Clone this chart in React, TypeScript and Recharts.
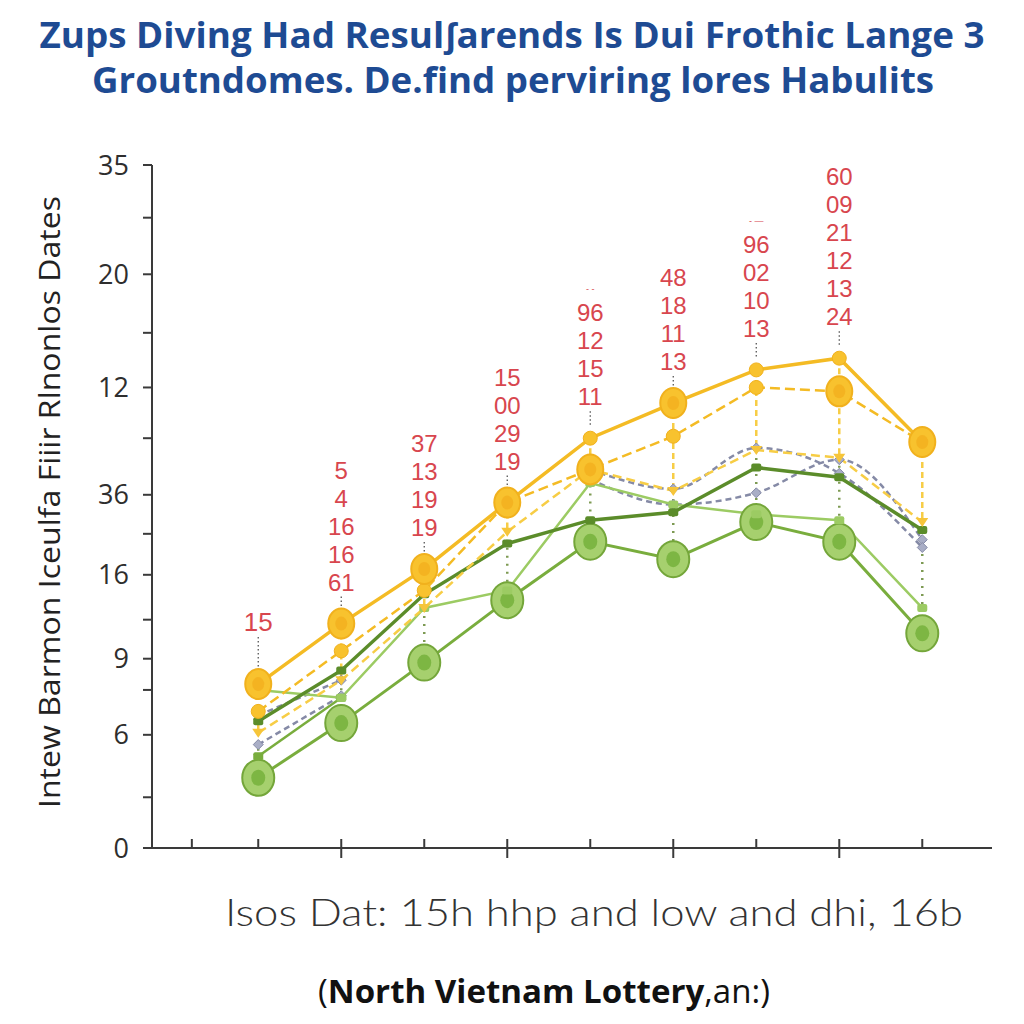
import React from 'react'
import { LineChart, Line, XAxis, YAxis, ReferenceLine } from 'recharts'

// category positions along the x axis (1..9), plus one extra leading tick
const categories = [1, 2, 3, 4, 5, 6, 7, 8, 9]
const xTicks = [0.2, 1, 2, 3, 4, 5, 6, 7, 8, 9]
const xMajorTicks = [2, 4, 6, 8]

// y axis: tick positions and the (odd) labels printed next to them
const yTickValues = [0, 2.6, 5.8, 8.1, 9.7, 11.7, 14.0, 16.1, 18.1, 21.0, 23.6, 26.4, 29.4, 32.3, 35]
const yTickLabels = ['0', '', '6', '', '9', '', '16', '', '36', '', '12', '', '20', '', '35']

// series
const goldTop = [8.4, 11.5, 14.3, 17.7, 21.0, 22.8, 24.5, 25.1, 20.8]
const goldMid = [7.0, 10.1, 13.2, 17.7, 19.4, 21.1, 23.6, 23.4, 20.8]
const goldLow = [5.9, 8.6, 12.3, 16.2, 19.4, 18.3, 20.4, 20.0, 16.7]
const greenDark = [6.5, 9.1, 13.0, 15.6, 16.8, 17.2, 19.5, 19.0, 16.3]
const greenLight = [8.1, 7.7, 12.3, 13.2, 18.7, 17.6, 17.1, 16.8, 12.3]
const greenThin = [4.7, 7.7, null, null, null, null, null, null, null]
const greenBig = [3.6, 6.4, 9.5, 12.7, 15.7, 14.8, 16.7, 15.7, 11.0]
const greyA = [6.8, 8.6, null, null, 19.4, 18.4, 20.5, 19.2, 15.4]
const greyB = [5.3, 7.8, null, null, 18.9, 17.6, 18.2, 19.9, 15.8]

// red number stacks printed above the top line
const labelStacks = [
  ['15'],
  ['5', '4', '16', '16', '61'],
  ['37', '13', '19', '19'],
  ['15', '00', '29', '19'],
  ['96', '12', '15', '11'],
  ['48', '18', '11', '13'],
  ['96', '02', '10', '13'],
  ['60', '09', '21', '12', '13', '24'],
  [],
]
const stackMarks = ['', '', '', '', '-  -', '', '-  —', '', '']

const goldTopBig = [0, 1, 2, 3, 5, 8]
const goldMidBig = [4, 7]

const chartData = categories.map((x, i) => ({
  x,
  goldTop: goldTop[i],
  goldMid: goldMid[i],
  goldLow: goldLow[i],
  greenDark: greenDark[i],
  greenLight: greenLight[i],
  greenThin: greenThin[i],
  greenBig: greenBig[i],
  greyA: greyA[i],
  greyB: greyB[i],
}))

const GOLD = '#f4bb24'
const GOLD_DASH = '#f7cd45'
const GREEN_DARK = '#5b8c2a'
const GREEN = '#79ad3d'
const GREEN_LIGHT = '#9ccb63'
const GREY = '#858aa6'
const RED = '#d8464e'
const NUM_FONT = "'Liberation Sans', Arial, sans-serif"

function goldBig(cx: number, cy: number) {
  return (
    <g>
      <ellipse cx={cx} cy={cy} rx={13} ry={15} fill="#f8c22e" stroke="#f1b11d" strokeWidth={2} />
      <ellipse cx={cx} cy={cy} rx={6} ry={7} fill="#f0a718" opacity={0.55} />
    </g>
  )
}

function goldSmall(cx: number, cy: number) {
  return <circle cx={cx} cy={cy} r={7} fill="#f8c22e" stroke="#f1b11d" strokeWidth={1} />
}

const GoldTopDot = (p: any) => {
  const { cx, cy, index } = p
  if (cx == null || cy == null) return <g key={`gt-${index}`} />
  const lines = labelStacks[index] || []
  const lh = 28
  const bottom = index === 0 ? cy - 62 : cy - 42
  const top = bottom - (lines.length - 1) * lh
  return (
    <g key={`gt-${index}`}>
      {lines.length > 0 && (
        <line x1={cx} x2={cx} y1={bottom + 15} y2={cy - 12} stroke="#555" strokeWidth={1.3} strokeDasharray="1.5 2.5" />
      )}
      {goldTopBig.includes(index) ? goldBig(cx, cy) : goldSmall(cx, cy)}
      {stackMarks[index] && (
        <text x={cx} y={top - 20} textAnchor="middle" fontSize={9} fill={RED} fontFamily={NUM_FONT}>
          {stackMarks[index]}
        </text>
      )}
      {lines.length > 0 && (
        <text textAnchor="middle" fill={RED} fontFamily={NUM_FONT} fontSize={index === 0 ? 26 : 24}>
          {lines.map((t, k) => (
            <tspan key={k} x={cx} y={top + k * lh + 9}>
              {t}
            </tspan>
          ))}
        </text>
      )}
    </g>
  )
}

const GoldMidDot = (p: any) => {
  const { cx, cy, index } = p
  if (cx == null || cy == null) return <g key={`gm-${index}`} />
  return <g key={`gm-${index}`}>{goldMidBig.includes(index) ? goldBig(cx, cy) : goldSmall(cx, cy)}</g>
}

const GoldLowDot = (p: any) => {
  const { cx, cy, index } = p
  if (cx == null || cy == null) return <g key={`gl-${index}`} />
  return <path key={`gl-${index}`} d={`M${cx - 6},${cy - 4} L${cx + 6},${cy - 4} L${cx},${cy + 5} Z`} fill="#f6c53a" />
}

const GreenBigDot = (p: any) => {
  const { cx, cy, index } = p
  if (cx == null || cy == null) return <g key={`gb-${index}`} />
  return (
    <g key={`gb-${index}`}>
      <ellipse cx={cx} cy={cy} rx={16} ry={18} fill="#a6d06e" stroke="#74a63a" strokeWidth={2} />
      <ellipse cx={cx} cy={cy} rx={7} ry={8} fill="#7db643" />
    </g>
  )
}

const smallSquare = (color: string, prefix: string) => (p: any) => {
  const { cx, cy, index } = p
  if (cx == null || cy == null) return <g key={`${prefix}-${index}`} />
  return <rect key={`${prefix}-${index}`} x={cx - 5} y={cy - 4} width={10} height={8} rx={2} fill={color} />
}

const smallDiamond = (color: string, prefix: string) => (p: any) => {
  const { cx, cy, index } = p
  if (cx == null || cy == null) return <g key={`${prefix}-${index}`} />
  return (
    <path key={`${prefix}-${index}`} d={`M${cx},${cy - 5} L${cx + 5},${cy} L${cx},${cy + 5} L${cx - 5},${cy} Z`} fill="#a9aec6" stroke={color} strokeWidth={1} />
  )
}

const XTick = (p: any) => {
  const { x, y, payload } = p
  const major = xMajorTicks.includes(payload.value)
  return <line x1={x} x2={x} y1={y - 9} y2={y + (major ? 10 : 0)} stroke="#3a3a3a" strokeWidth={2} />
}

export default function App() {
  return (
    <div style={{ position: 'absolute', left: 0, top: 0, width: 1024, height: 1024, background: '#fff', overflow: 'hidden' }}>
      <LineChart
        width={1024}
        height={1024}
        data={chartData}
        margin={{ top: 165, right: 32, bottom: 146, left: 92 }}
      >
        <XAxis
          type="number"
          dataKey="x"
          domain={[-0.28, 9.84]}
          ticks={xTicks}
          interval={0}
          allowDataOverflow
          height={30}
          tickSize={0}
          tickMargin={0}
          tickLine={false}
          axisLine={{ stroke: '#3a3a3a', strokeWidth: 2 }}
          tick={<XTick />}
        />
        <YAxis
          type="number"
          domain={[0, 35]}
          ticks={yTickValues}
          interval={0}
          width={60}
          tickSize={9}
          tickMargin={14}
          tickFormatter={(v: number) => yTickLabels[yTickValues.indexOf(v)] ?? ''}
          axisLine={{ stroke: '#3a3a3a', strokeWidth: 2 }}
          tickLine={{ stroke: '#3a3a3a', strokeWidth: 2 }}
          tick={{ fill: '#2e2e2e', fontSize: 27, fontFamily: "'Open Sans', sans-serif" }}
        />

        {categories.map((c, i) => (
          <ReferenceLine
            key={`vg-${c}`}
            segment={[
              { x: c, y: goldTop[i] },
              { x: c, y: goldLow[i] },
            ]}
            stroke={GOLD_DASH}
            strokeWidth={2.5}
            strokeDasharray="6 4"
          />
        ))}
        {categories.map((c, i) => (
          <ReferenceLine
            key={`vd-${c}`}
            segment={[
              { x: c, y: goldLow[i] },
              { x: c, y: greenBig[i] },
            ]}
            stroke="#7d9a52"
            strokeWidth={2.5}
            strokeDasharray="2 6"
          />
        ))}

        <Line
          dataKey="greyB"
          type="monotone"
          stroke={GREY}
          strokeWidth={2.5}
          strokeDasharray="6 4"
          dot={smallDiamond(GREY, 'gyb')}
          connectNulls={false}
          isAnimationActive={false}
        />
        <Line
          dataKey="greyA"
          type="monotone"
          stroke={GREY}
          strokeWidth={2.5}
          strokeDasharray="6 4"
          dot={smallDiamond(GREY, 'gya')}
          connectNulls={false}
          isAnimationActive={false}
        />
        <Line dataKey="greenBig" type="linear" stroke={GREEN} strokeWidth={3} dot={<GreenBigDot />} isAnimationActive={false} />
        <Line dataKey="greenThin" type="linear" stroke={GREEN} strokeWidth={2.5} dot={smallSquare(GREEN, 'gth')} connectNulls={false} isAnimationActive={false} />
        <Line dataKey="greenLight" type="linear" stroke={GREEN_LIGHT} strokeWidth={2.5} dot={smallSquare(GREEN_LIGHT, 'gli')} isAnimationActive={false} />
        <Line dataKey="greenDark" type="linear" stroke={GREEN_DARK} strokeWidth={3.5} dot={smallSquare(GREEN_DARK, 'gdk')} isAnimationActive={false} />
        <Line dataKey="goldLow" type="linear" stroke={GOLD_DASH} strokeWidth={2.5} strokeDasharray="9 5" dot={<GoldLowDot />} isAnimationActive={false} />
        <Line dataKey="goldMid" type="linear" stroke={GOLD} strokeWidth={2.5} strokeDasharray="10 5" dot={<GoldMidDot />} isAnimationActive={false} />
        <Line dataKey="goldTop" type="linear" stroke={GOLD} strokeWidth={3.5} dot={<GoldTopDot />} isAnimationActive={false} />
      </LineChart>

      <svg width={1024} height={1024} style={{ position: 'absolute', left: 0, top: 0, pointerEvents: 'none' }}>
        <text x={512} y={48} textAnchor="middle" textLength={945} lengthAdjust="spacingAndGlyphs" fontSize={35} fontWeight={700} fill="#1e4b93" fontFamily="'Open Sans', sans-serif">
          Zups Diving Had Resulʃarends Is Dui Frothic Lange 3
        </text>
        <text x={513} y={93} textAnchor="middle" textLength={842} lengthAdjust="spacingAndGlyphs" fontSize={35} fontWeight={700} fill="#1e4b93" fontFamily="'Open Sans', sans-serif">
          Groutndomes. De.find perviring lores Habulits
        </text>
        <text
          transform="translate(60,502) rotate(-90)"
          textAnchor="middle"
          textLength={612}
          lengthAdjust="spacingAndGlyphs"
          fontSize={29}
          fill="#222"
          fontFamily="'Open Sans', sans-serif"
        >
          Intew Barmon Iceulfa Fiiir Rlnonlos Dates
        </text>
        <text x={594} y={926} textAnchor="middle" textLength={738} lengthAdjust="spacingAndGlyphs" fontSize={38} fontWeight={300} fill="#333" fontFamily="'Lato', 'Open Sans', sans-serif">
          Isos Dat: 15h hhp and low and dhi, 16b
        </text>
        <text x={544} y={1003} textAnchor="middle" textLength={452} lengthAdjust="spacingAndGlyphs" fontSize={33} fill="#111" fontFamily="'Open Sans', sans-serif">
          <tspan>(</tspan>
          <tspan fontWeight={700}>North Vietnam Lottery</tspan>
          <tspan>,an:)</tspan>
        </text>
      </svg>
    </div>
  )
}
